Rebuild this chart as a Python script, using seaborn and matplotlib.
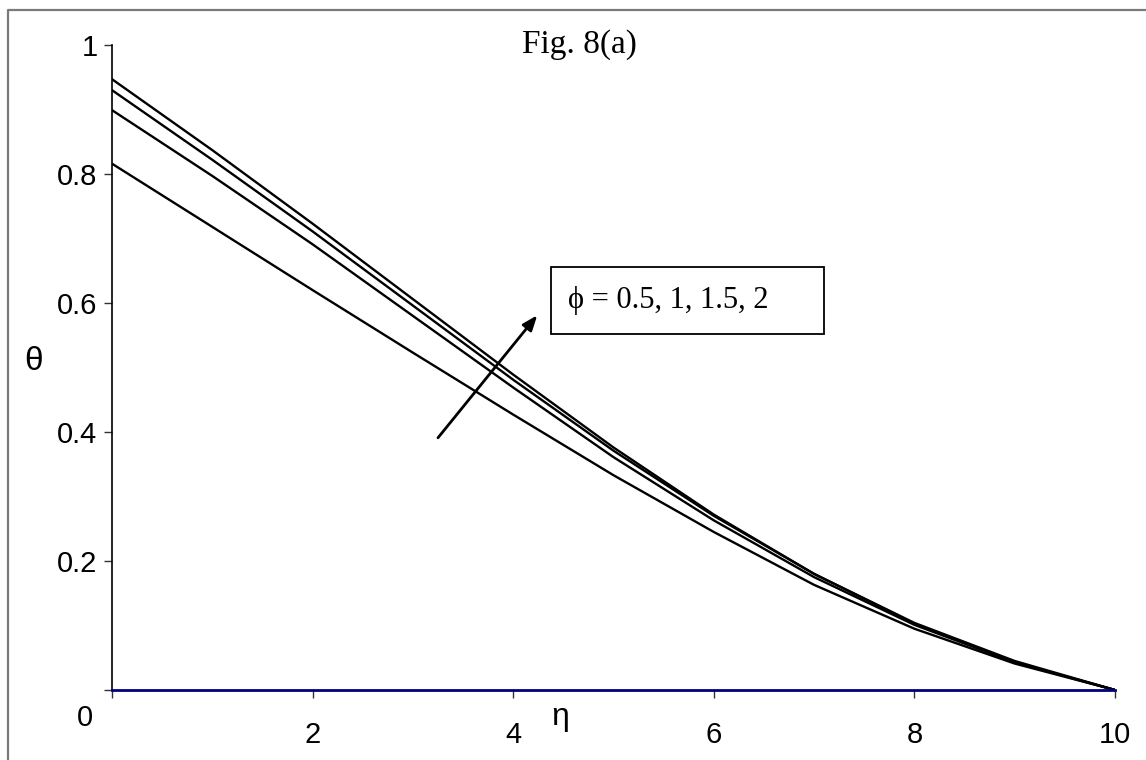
import numpy as np
import pandas as pd
import matplotlib
matplotlib.use("Agg")
import matplotlib.pyplot as plt
from matplotlib.lines import Line2D
from matplotlib.patches import Rectangle
import seaborn as sns

# Temperature profiles theta(eta) for several values of phi
eta = [0, 1, 2, 3, 4, 5, 6, 7, 8, 9, 10]
theta_phi_05 = [0.816, 0.718, 0.620, 0.523, 0.427, 0.333, 0.245, 0.163, 0.095, 0.041, 0.0]
theta_phi_1 = [0.899, 0.797, 0.691, 0.580, 0.469, 0.361, 0.263, 0.175, 0.101, 0.043, 0.0]
theta_phi_15 = [0.930, 0.822, 0.711, 0.596, 0.481, 0.371, 0.270, 0.180, 0.104, 0.045, 0.0]
theta_phi_2 = [0.947, 0.837, 0.723, 0.606, 0.489, 0.376, 0.272, 0.180, 0.103, 0.043, 0.0]
phi_values = ["0.5", "1", "1.5", "2"]

x_ticks = [2, 4, 6, 8, 10]
x_tick_labels = ["2", "4", "6", "8", "10"]
y_ticks = [0, 0.2, 0.4, 0.6, 0.8, 1.0]
y_tick_labels = ["", "0.2", "0.4", "0.6", "0.8", "1"]

series = [theta_phi_05, theta_phi_1, theta_phi_15, theta_phi_2]
df = pd.concat(
    [pd.DataFrame({"eta": eta, "theta": s, "phi": p}) for s, p in zip(series, phi_values)],
    ignore_index=True,
)

sns.set_style("white")
plt.rcParams["font.family"] = ["Liberation Sans", "DejaVu Sans"]
plt.rcParams["text.color"] = "black"
plt.rcParams["xtick.color"] = "black"
plt.rcParams["ytick.color"] = "black"

W, H = 1146, 760
fig = plt.figure(figsize=(W / 100, H / 100), dpi=100)
fig.patch.set_facecolor("white")
ax = fig.add_axes([112 / W, 1 - 690 / H, (1115 - 112) / W, (690 - 45) / H])

sns.lineplot(data=df, x="eta", y="theta", hue="phi", palette=["black"] * 4,
             linewidth=1.7, legend=False, ax=ax)

ax.set_xlim(0, 10)
ax.set_ylim(0, 1)
ax.set_xlabel("")
ax.set_ylabel("")

for side in ("top", "right"):
    ax.spines[side].set_visible(False)
ax.spines["left"].set_color("black")
ax.spines["left"].set_linewidth(1.2)
ax.spines["bottom"].set_color("#000080")
ax.spines["bottom"].set_linewidth(2.0)
ax.spines["bottom"].set_zorder(5)

ax.set_xticks([0] + x_ticks)
ax.set_xticklabels([""] + x_tick_labels)
ax.set_yticks(y_ticks)
ax.set_yticklabels(y_tick_labels)
ax.tick_params(axis="x", direction="out", length=5.5, width=1, color="#333333",
               labelcolor="black", pad=17, labelsize=21, bottom=True)
ax.tick_params(axis="y", direction="out", length=5.5, width=1, color="#333333",
               labelcolor="black", pad=5, labelsize=21, left=True)

# Zero label of the vertical axis sits below its tick
ax.text(-19 / 1003, -28 / 645, "0", transform=ax.transAxes, ha="right", va="center",
        fontsize=21)

# Axis titles
fig.text(33 / W, 1 - 361 / H, "θ", ha="center", va="center", fontsize=24)
fig.text(560 / W, 1 - 717 / H, "η", ha="center", va="center", fontsize=23)

# Figure caption
fig.text(637 / W, 1 - 45 / H, "Fig. 8(a)", ha="right", va="center", fontsize=24,
         family=["Liberation Serif", "DejaVu Serif"])

# Parameter box with arrow showing increasing phi
ax.add_patch(Rectangle((4.374, 0.552), 7.10 - 4.374, 0.656 - 0.552, fill=False,
                       edgecolor="black", linewidth=1.3, zorder=6))
ax.text(4.546, 0.604, "ϕ = 0.5, 1, 1.5, 2", ha="left", va="center", fontsize=22,
        family=["Liberation Serif", "DejaVu Serif"], zorder=7)
ax.annotate("", xy=(4.24, 0.581), xytext=(3.25, 0.391),
            arrowprops=dict(arrowstyle="-|>,head_length=0.9,head_width=0.35",
                            color="black", lw=2.0, shrinkA=0, shrinkB=0))

# Outer frame of the figure
frame_x = 8 / W
frame_y = 1 - 10 / H
fig.add_artist(Line2D([frame_x, frame_x, 1.0], [0.0, frame_y, frame_y],
                      transform=fig.transFigure, color="#7a7a7a", linewidth=1.6))

fig.savefig("out.png", dpi=100, facecolor="white")
